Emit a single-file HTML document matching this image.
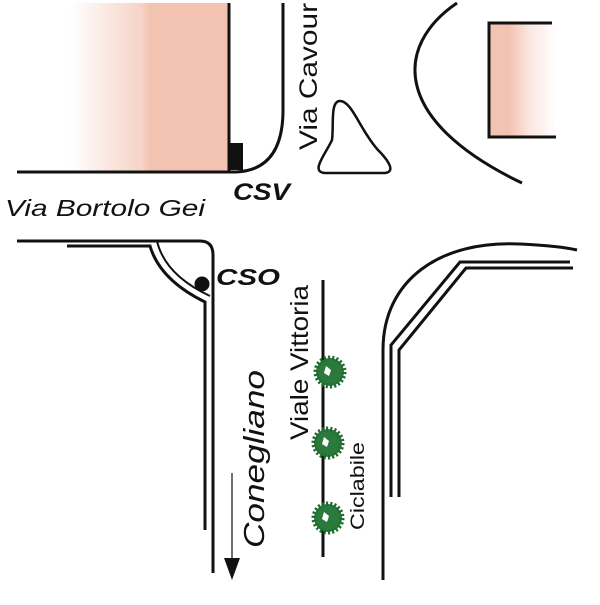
<!DOCTYPE html>
<html><head><style>body{margin:0;background:#fff}</style></head><body>
<svg width="600" height="600" viewBox="0 0 600 600" xmlns="http://www.w3.org/2000/svg" font-family="Liberation Sans, sans-serif">
<defs>
<linearGradient id="g1" x1="0" x2="1"><stop offset="0" stop-color="#fff"/><stop offset="0.45" stop-color="#f6d3c6"/><stop offset="0.5" stop-color="#f3c3b1"/><stop offset="1" stop-color="#f3c3b1"/></linearGradient>
<linearGradient id="g2" x1="0" x2="1"><stop offset="0" stop-color="#f3c3b1"/><stop offset="0.3" stop-color="#f3c3b1"/><stop offset="0.6" stop-color="#fbe6df"/><stop offset="1" stop-color="#fff"/></linearGradient>
</defs>
<g fill="none" stroke="#111" stroke-width="3">
<rect x="70" y="3" width="159" height="169" fill="url(#g1)" stroke="none"/>
<line x1="229" y1="3" x2="229" y2="172"/>
<line x1="17" y1="172" x2="236" y2="172"/>
<path d="M283 3 V110 Q283 170 236 172"/>
<path d="M340 101 C330 101 334 125 332 140 C325 155 310 172 325 173 H385 C395 172 390 162 378 150 C360 130 352 101 340 101 Z" stroke-width="2.5"/>
<path d="M457 3 C395 45 390 120 522 183"/>
<rect x="489" y="23" width="67" height="114" fill="url(#g2)" stroke="none"/>
<path d="M552 23 H489 V137 H556"/>
<path d="M17 241 H200 Q213 241 213 255 V573"/>
<path d="M67 246 H150 Q160 280 205 302 V530" />
<path d="M157 241 Q165 275 210 296" stroke-width="2"/>
<line x1="323" y1="280" x2="323" y2="557"/>
<path d="M383 580 V350 C383 280 440 240 520 244 Q560 246 577 250"/>
<path d="M391 497 V345 L460 262 H570"/>
<path d="M399 497 V350 L466 268 H573"/>
<line x1="232" y1="473" x2="232" y2="560" stroke-width="1.2"/>
</g>
<rect x="230" y="143" width="13" height="27" fill="#111"/>
<circle cx="202" cy="284" r="7.5" fill="#111"/>
<polygon points="224,558 240,558 232,580" fill="#111"/>
<g fill="#2a7a3c" stroke="#1f6b30" stroke-width="5" stroke-dasharray="2 2">
<circle cx="330" cy="372" r="14"/><circle cx="328" cy="443" r="14"/><circle cx="328" cy="518" r="14"/>
</g>
<g fill="#fff"><path d="M326 366 l5 4 l-2 6 l-5 -3z"/><path d="M324 437 l5 4 l-2 6 l-5 -3z"/><path d="M324 512 l5 4 l-2 6 l-5 -3z"/></g>
<g fill="#111">
<text x="5" y="216" font-size="23" font-style="italic" textLength="200" lengthAdjust="spacingAndGlyphs">Via Bortolo Gei</text>
<text x="233" y="200" font-size="24" font-weight="bold" font-style="italic" textLength="57" lengthAdjust="spacingAndGlyphs">CSV</text>
<text x="216" y="285" font-size="23" font-weight="bold" font-style="italic" textLength="64" lengthAdjust="spacingAndGlyphs">CSO</text>
<text transform="translate(317,150) rotate(-90)" font-size="25" textLength="147" lengthAdjust="spacingAndGlyphs">Via Cavour</text>
<text transform="translate(308,440) rotate(-90)" font-size="25" textLength="155" lengthAdjust="spacingAndGlyphs">Viale Vittoria</text>
<text transform="translate(264,548) rotate(-90)" font-size="29" font-style="italic" textLength="178" lengthAdjust="spacingAndGlyphs">Conegliano</text>
<text transform="translate(364,530) rotate(-90)" font-size="19" textLength="88" lengthAdjust="spacingAndGlyphs">Ciclabile</text>
</g>
</svg>
</body></html>
